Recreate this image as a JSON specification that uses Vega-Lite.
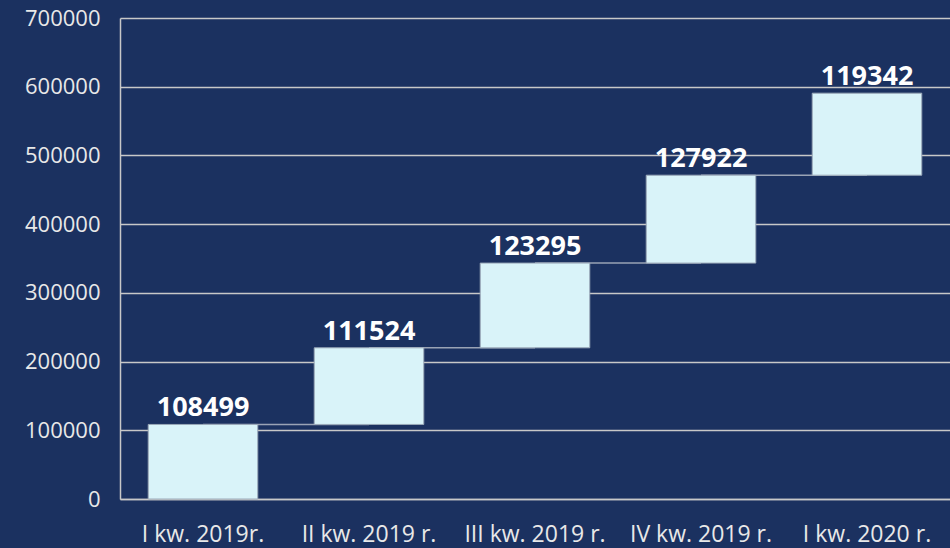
{
  "$schema": "https://vega.github.io/schema/vega-lite/v6.json",
  "autosize": "none",
  "width": 830,
  "height": 481,
  "padding": {"left": 120, "top": 18, "right": 0, "bottom": 49},
  "background": "#1b3160",
  "config": {
    "view": {"stroke": null},
    "font": "Open Sans"
  },
  "datasets": {
    "bars": [
      {"cat": "I kw. 2019r.", "value": 108499, "start": 0, "end": 108499},
      {"cat": "II kw. 2019 r.", "value": 111524, "start": 108499, "end": 220023},
      {"cat": "III kw. 2019 r.", "value": 123295, "start": 220023, "end": 343318},
      {"cat": "IV kw. 2019 r.", "value": 127922, "start": 343318, "end": 471240},
      {"cat": "I kw. 2020 r.", "value": 119342, "start": 471240, "end": 590582}
    ],
    "links": [
      {"from": "I kw. 2019r.", "to": "II kw. 2019 r.", "level": 108499},
      {"from": "II kw. 2019 r.", "to": "III kw. 2019 r.", "level": 220023},
      {"from": "III kw. 2019 r.", "to": "IV kw. 2019 r.", "level": 343318},
      {"from": "IV kw. 2019 r.", "to": "I kw. 2020 r.", "level": 471240}
    ]
  },
  "layer": [
    {
      "data": {"name": "links"},
      "mark": {"type": "rule", "color": "#9aa3b5", "strokeWidth": 1.5},
      "encoding": {
        "x": {"field": "from", "type": "nominal", "sort": null},
        "x2": {"field": "to"},
        "y": {"field": "level", "type": "quantitative"}
      }
    },
    {
      "data": {"name": "bars"},
      "mark": {"type": "bar", "color": "#d9f3f9", "stroke": "#9aa8b8", "strokeWidth": 1},
      "encoding": {
        "x": {
          "field": "cat", "type": "nominal", "sort": null,
          "scale": {"paddingInner": 0.34, "paddingOuter": 0.17},
          "axis": {
            "title": null, "labelAngle": 0, "labelAlign": "center", "labelBaseline": "top",
            "labelFontSize": 23, "labelColor": "#e8e8e8", "labelOverlap": false,
            "ticks": false, "labelPadding": 24, "domain": true, "domainColor": "#c8c8c8", "domainWidth": 1.5
          }
        },
        "y": {
          "field": "start", "type": "quantitative",
          "scale": {"domain": [0, 700000]},
          "axis": {
            "title": null, "values": [0, 100000, 200000, 300000, 400000, 500000, 600000, 700000],
            "labelFontSize": 22, "labelColor": "#e8e8e8", "ticks": false, "labelPadding": 20,
            "format": "d", "grid": true, "gridColor": "#c8c8c8", "gridWidth": 1.5,
            "domain": true, "domainColor": "#c8c8c8", "domainWidth": 1.5
          }
        },
        "y2": {"field": "end"}
      }
    },
    {
      "data": {"name": "bars"},
      "mark": {"type": "text", "color": "white", "fontWeight": "bold", "fontSize": 27, "baseline": "alphabetic", "dy": -8},
      "encoding": {
        "x": {"field": "cat", "type": "nominal", "sort": null},
        "y": {"field": "end", "type": "quantitative"},
        "text": {"field": "value", "type": "quantitative", "format": "d"}
      }
    }
  ]
}
